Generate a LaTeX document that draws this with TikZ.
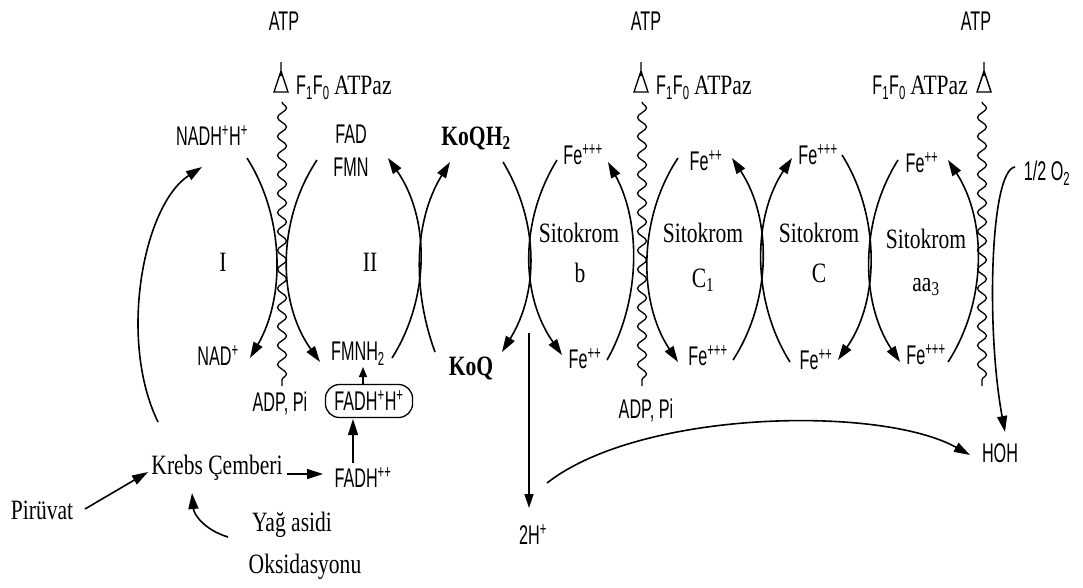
\documentclass[tikz,border=0pt]{standalone}
\usepackage{fontspec}
\setmainfont{Liberation Serif}[FakeStretch=0.77]
\newfontfamily\hv{Liberation Sans}[FakeStretch=0.6]
\usetikzlibrary{arrows.meta,decorations.pathmorphing}
\begin{document}
\begin{tikzpicture}[x=1pt,y=-1pt,
  sf/.style={font=\hv\fontsize{27}{29}\selectfont, inner sep=0pt},
  rm/.style={font=\fontsize{28}{30}\selectfont, inner sep=0pt},
  bx/.style={font=\bfseries\fontsize{28}{30}\selectfont, inner sep=0pt},
  ar/.style={line width=1.6pt, -{Triangle[length=16pt,width=10pt]}},
  arsm/.style={line width=1.3pt, -{Triangle[length=10pt,width=8pt]}},
  wave/.style={line width=1.3pt, decorate, decoration={snake, amplitude=4.5pt, segment length=19pt}},
  atps/.pic={\draw[line width=1.4pt] (0,-30)--(0,-16) (0,-21)--(-7,0)--(7,0)--cycle;}]
\useasboundingbox (0,0) rectangle (1083,587);

% ---------- ATP synthase ----------
\node[sf] (atp1) at (284,21) {ATP};
\node[sf] (atp2) at (646,21) {ATP};
\node[sf] (atp3) at (976,21) {ATP};
\pic (s1) at (281,92) {atps};
\pic (s2) at (641,92) {atps};
\pic (s3) at (984,92) {atps};
\node[sf, anchor=west] (f1) at (296,88) {F\textsubscript{1}F\textsubscript{0} {\rmfamily\fontsize{28}{30}\selectfont ATPaz}};
\node[sf, anchor=west] (f2) at (656,88) {F\textsubscript{1}F\textsubscript{0} {\rmfamily\fontsize{28}{30}\selectfont ATPaz}};
\node[sf, anchor=east] (f3) at (968,88) {F\textsubscript{1}F\textsubscript{0} {\rmfamily\fontsize{28}{30}\selectfont ATPaz}};
\coordinate (w1s) at (282,102); \coordinate (w1e) at (282,386);
\coordinate (w2s) at (642,102); \coordinate (w2e) at (642,386);
\coordinate (w3s) at (982,102); \coordinate (w3e) at (982,386);
\draw[wave] (w1s) -- (w1e);
\draw[wave] (w2s) -- (w2e);
\draw[wave] (w3s) -- (w3e);
\node[sf] (adp1) at (280,403) {ADP, Pi};
\node[sf] (adp2) at (646,410) {ADP, Pi};

% ---------- labels ----------
\node[sf] (nadh) at (212,136) {NADH\textsuperscript{+}H\textsuperscript{+}};
\node[sf] (nad) at (218,356) {NAD\textsuperscript{+}};
\node[sf] (fad) at (351,134) {FAD};
\node[sf] (fmn) at (351,167) {FMN};
\node[sf] (fmnh) at (358,354) {FMNH\textsubscript{2}};
\node[bx] (koqh) at (476,138) {KoQH\textsubscript{2}};
\node[bx] (koq) at (471,368) {KoQ};
\node[rm] (c1) at (223,262) {I};
\node[rm] (c2) at (370,262) {II};
\node[sf] (bt) at (583,155) {Fe\textsuperscript{+++}};
\node[sf] (bb) at (585,359) {Fe\textsuperscript{++}};
\node[rm] (bs) at (579,233) {Sitokrom};
\node[rm] (bn) at (580,273) {b};
\node[sf] (c1t) at (706,161) {Fe\textsuperscript{++}};
\node[sf] (c1b) at (708,356) {Fe\textsuperscript{+++}};
\node[rm] (c1s) at (703,233) {Sitokrom};
\node[rm] (c1n) at (703,280) {C\textsubscript{1}};
\node[sf] (ct) at (818,155) {Fe\textsuperscript{+++}};
\node[sf] (cb) at (816,360) {Fe\textsuperscript{++}};
\node[rm] (cs) at (819,233) {Sitokrom};
\node[rm] (cn) at (819,273) {C};
\node[sf] (at) at (922,163) {Fe\textsuperscript{++}};
\node[sf] (ab) at (926,355) {Fe\textsuperscript{+++}};
\node[rm] (as) at (926,239) {Sitokrom};
\node[rm] (an) at (926,287) {aa\textsubscript{3}};
\node[sf] (o2) at (1047,173) {1/2 O\textsubscript{2}};
\node[sf] (hoh) at (1000,453) {HOH};
\node[sf] (h2) at (533,535) {2H\textsuperscript{+}};
\node[rm] (krebs) at (217,468) {Krebs Çemberi};
\node[rm] (piru) at (42,510) {Pirüvat};
\node[rm] (yag) at (292,525) {Yağ asidi};
\node[rm] (oks) at (305,567) {Oksidasyonu};
\node[sf] (fadhpp) at (363,478) {FADH\textsuperscript{++}};
\node[sf, draw, line width=1.3pt, rounded corners=14pt, minimum height=33pt, inner xsep=9pt] (fadhb) at (369,401) {FADH\textsuperscript{+}H\textsuperscript{+}};

% ---------- arc end points ----------
\coordinate (a1s) at (247,158); \coordinate (a1e) at (250,358);
\coordinate (a2s) at (317,160); \coordinate (a2e) at (320,362);
\coordinate (a3s) at (392,358); \coordinate (a3e) at (388,158);
\coordinate (a4s) at (435,352); \coordinate (a4e) at (450,162);
\coordinate (a5s) at (503,162); \coordinate (a5e) at (502,352);
\coordinate (a6s) at (557,160); \coordinate (a6e) at (562,355);
\coordinate (a7s) at (607,360); \coordinate (a7e) at (608,162);
\coordinate (a8s) at (678,158); \coordinate (a8e) at (678,362);
\coordinate (a9s) at (733,360); \coordinate (a9e) at (732,158);
\coordinate (a10s) at (790,362); \coordinate (a10e) at (792,158);
\coordinate (a11s) at (842,155); \coordinate (a11e) at (838,360);
\coordinate (a12s) at (898,160); \coordinate (a12e) at (900,362);
\coordinate (a13s) at (948,362); \coordinate (a13e) at (948,160);
\coordinate (o2s) at (1015,167); \coordinate (o2e) at (1005,432);

\draw[ar] (a1s) .. controls +(38,60) and +(35,-60) .. (a1e);
\draw[ar] (a2s) .. controls +(-40,60) and +(-43,-60) .. (a2e);
\draw[ar] (a3s) .. controls +(38,-60) and +(42,60) .. (a3e);
\draw[ar] (a4s) .. controls +(-22,-60) and +(-37,60) .. (a4e);
\draw[ar] (a5s) .. controls +(36,60) and +(37,-60) .. (a5e);
\draw[ar] (a6s) .. controls +(-37,60) and +(-42,-60) .. (a6e);
\draw[ar] (a7s) .. controls +(34,-60) and +(33,60) .. (a7e);
\draw[ar] (a8s) .. controls +(-40,60) and +(-40,-60) .. (a8e);
\draw[ar] (a9s) .. controls +(39,-60) and +(40,60) .. (a9e);
\draw[ar] (a10s) .. controls +(-38,-60) and +(-40,60) .. (a10e);
\draw[ar] (a11s) .. controls +(38,60) and +(42,-60) .. (a11e);
\draw[ar] (a12s) .. controls +(-38,60) and +(-40,-60) .. (a12e);
\draw[ar] (a13s) .. controls +(39,-60) and +(39,60) .. (a13e);
\draw[ar] (o2s) .. controls +(-25,3) and +(-19,-102) .. (o2e);

% ---------- lower connectors ----------
\coordinate (kr1) at (158,422); \coordinate (kr2) at (202,167);
\draw[ar] (kr1) .. controls (118,340) and (143,205) .. (kr2);
\coordinate (pa) at (85,509); \coordinate (pb) at (148,472);
\draw[ar] (pa) -- (pb);
\coordinate (ya) at (228,537); \coordinate (yb) at (192,493);
\draw[ar] (ya) .. controls (205,530) and (194,515) .. (yb);
\coordinate (ka) at (287,474); \coordinate (kb) at (323,474);
\draw[ar] (ka) -- (kb);
\coordinate (fa) at (353,463); \coordinate (fb) at (353,419);
\draw[ar] (fa) -- (fb);
\coordinate (ba) at (363,385); \coordinate (bb2) at (363,367);
\draw[arsm] (ba) -- (bb2);
\coordinate (va) at (529,333); \coordinate (vb) at (529,508);
\draw[line width=1.6pt, -{Triangle[length=14pt,width=9pt]}] (va) -- (vb);
\coordinate (la) at (547,483); \coordinate (lb) at (970,455);
\draw[ar] (la) .. controls (640,410) and (880,405) .. (lb);
\end{tikzpicture}
\end{document}
